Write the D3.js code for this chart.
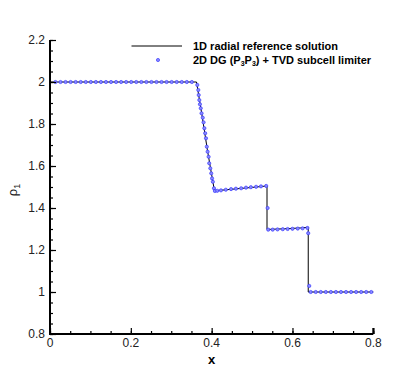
<!DOCTYPE html>
<html>
<head>
<meta charset="utf-8">
<script src="https://cdn.jsdelivr.net/npm/d3@7"></script>
<style>
  body { margin: 0; background: #fff; }
  text { font-family: "Liberation Sans", Arial, sans-serif; }
</style>
</head>
<body>
<div id="chart"></div>
<script>
// reference solution (1D radial), piecewise
var refX = [0, 0.3625, 0.375, 0.39, 0.407, 0.42, 0.46, 0.50, 0.537, 0.537, 0.54, 0.58, 0.62, 0.639, 0.639, 0.8];
var refY = [2.0, 2.0, 1.855, 1.670, 1.481, 1.484, 1.491, 1.498, 1.505, 1.298, 1.298, 1.301, 1.305, 1.308, 1.0, 1.0];

// 2D DG (P3P3) + TVD subcell limiter, displayed symbols
var dgX = [0.0135, 0.026, 0.0385, 0.051, 0.0635, 0.076, 0.0885, 0.101, 0.1135, 0.126,
  0.1385, 0.151, 0.1635, 0.176, 0.1885, 0.201, 0.2135, 0.226, 0.2385, 0.251,
  0.2635, 0.276, 0.2885, 0.301, 0.3135, 0.326, 0.3385, 0.351,
  0.3645, 0.367, 0.368, 0.3695, 0.371, 0.373, 0.375, 0.378, 0.380, 0.382,
  0.384, 0.386, 0.388, 0.390, 0.3925, 0.394, 0.3967, 0.399, 0.401, 0.403, 0.4057, 0.408,
  0.414, 0.423, 0.435, 0.448, 0.460, 0.473, 0.485, 0.497, 0.510, 0.522, 0.535,
  0.5385,
  0.540, 0.551, 0.563, 0.576, 0.588, 0.600, 0.613, 0.625, 0.637,
  0.639, 0.6415,
  0.645, 0.6575, 0.670, 0.6825, 0.695, 0.7075, 0.720, 0.7325, 0.745, 0.7575, 0.770, 0.7825, 0.795];
var dgY = [2.0, 2.0, 2.0, 2.0, 2.0, 2.0, 2.0, 2.0, 2.0, 2.0,
  2.0, 2.0, 2.0, 2.0, 2.0, 2.0, 2.0, 2.0, 2.0, 2.0,
  2.0, 2.0, 2.0, 2.0, 2.0, 2.0, 2.0, 2.0,
  1.986, 1.962, 1.938, 1.914, 1.894, 1.875, 1.851, 1.830, 1.808, 1.780,
  1.756, 1.732, 1.692, 1.668, 1.644, 1.613, 1.589, 1.565, 1.541, 1.525, 1.494, 1.481,
  1.482, 1.484, 1.487, 1.490, 1.492, 1.494, 1.497, 1.499, 1.501, 1.503, 1.505,
  1.40,
  1.297, 1.297, 1.298, 1.299, 1.300, 1.301, 1.302, 1.303, 1.305,
  1.280, 1.029,
  1.0, 1.0, 1.0, 1.0, 1.0, 1.0, 1.0, 1.0, 1.0, 1.0, 1.0, 1.0, 1.0];

var xTicks = [0, 0.2, 0.4, 0.6, 0.8];
var yTicks = [0.8, 1, 1.2, 1.4, 1.6, 1.8, 2, 2.2];

var width = 419, height = 371;

// set the ranges
var x = d3.scaleLinear().domain([0, 0.8]).range([50, 373.3]);
var y = d3.scaleLinear().domain([0.8, 2.2]).range([334, 40]);

var svg = d3.select("#chart").append("svg")
    .attr("width", width)
    .attr("height", height);

// reference line
var refData = refX.map(function (d, i) { return { x: d, y: refY[i] }; });
var line = d3.line()
    .x(function (d) { return x(d.x); })
    .y(function (d) { return y(d.y); });

svg.append("path")
    .datum(refData)
    .attr("fill", "none")
    .attr("stroke", "#000")
    .attr("stroke-width", 1)
    .attr("d", line);

// DG symbols
var dgData = dgX.map(function (d, i) { return { x: d, y: dgY[i] }; });
svg.selectAll("circle.dg")
    .data(dgData)
    .enter().append("circle")
    .attr("class", "dg")
    .attr("cx", function (d) { return x(d.x); })
    .attr("cy", function (d) { return y(d.y); })
    .attr("r", 1.6)
    .attr("fill", "#8a8aff")
    .attr("stroke", "#3a3aff")
    .attr("stroke-width", 0.7);

// minor tick values
var xMinor = d3.range(0, 0.8001, 0.05);
var yMinor = d3.range(0.8, 2.2001, 0.05);

// X axis (ticks pointing inward)
var xAxis = svg.append("g")
    .attr("transform", "translate(0," + y(0.8) + ")");
xAxis.call(d3.axisTop(x).tickValues(xMinor).tickSize(3).tickFormat(""))
    .select(".domain").remove();
xAxis.append("g")
    .call(d3.axisTop(x).tickValues(xTicks).tickSize(6).tickFormat(""))
    .select(".domain").remove();
xAxis.selectAll("line").attr("stroke", "#000").attr("stroke-width", 1.2);
xAxis.selectAll(".xlab")
    .data(xTicks)
    .enter().append("text")
    .attr("class", "xlab")
    .attr("x", function (d) { return x(d); })
    .attr("y", 13)
    .attr("text-anchor", "middle")
    .style("font-size", "12px")
    .style("fill", "#222")
    .text(function (d) { return d3.format("")(d); });

// Y axis (ticks pointing inward)
var yAxis = svg.append("g")
    .attr("transform", "translate(" + x(0) + ",0)");
yAxis.call(d3.axisRight(y).tickValues(yMinor).tickSize(3).tickFormat(""))
    .select(".domain").remove();
yAxis.append("g")
    .call(d3.axisRight(y).tickValues(yTicks).tickSize(6).tickFormat(""))
    .select(".domain").remove();
yAxis.selectAll("line").attr("stroke", "#000").attr("stroke-width", 1.2);
yAxis.selectAll(".ylab")
    .data(yTicks)
    .enter().append("text")
    .attr("class", "ylab")
    .attr("x", -5)
    .attr("y", function (d) { return y(d); })
    .attr("dy", "0.35em")
    .attr("text-anchor", "end")
    .style("font-size", "12px")
    .style("fill", "#222")
    .text(function (d) { return d3.format("")(d); });

// axis lines
svg.append("path")
    .attr("d", "M" + x(0) + "," + y(2.2) + "V" + y(0.8) + "H" + x(0.8))
    .attr("fill", "none")
    .attr("stroke", "#000")
    .attr("stroke-width", 2);
svg.append("line")
    .attr("x1", x(0.8)).attr("x2", x(0.8))
    .attr("y1", y(0.8)).attr("y2", y(0.8) - 6)
    .attr("stroke", "#000").attr("stroke-width", 2);

// axis titles
svg.append("text")
    .attr("x", (x(0) + x(0.8)) / 2)
    .attr("y", 364)
    .attr("text-anchor", "middle")
    .style("font-size", "13px")
    .style("font-weight", "bold")
    .text("x");

var yTitle = svg.append("text")
    .attr("transform", "translate(17," + 190 + ") rotate(-90)")
    .attr("text-anchor", "middle")
    .style("font-size", "13px")
    .style("fill", "#222");
yTitle.append("tspan").text("ρ");
yTitle.append("tspan").attr("dy", 3).style("font-size", "9px").text("1");

// legend
svg.append("line")
    .attr("x1", 131.5).attr("x2", 182)
    .attr("y1", 46).attr("y2", 46)
    .attr("stroke", "#000").attr("stroke-width", 1);
svg.append("text")
    .attr("x", 193)
    .attr("y", 50)
    .style("font-size", "11px")
    .style("font-weight", "bold")
    .text("1D radial reference solution");

svg.append("circle")
    .attr("cx", 158).attr("cy", 60).attr("r", 1.6)
    .attr("fill", "#8a8aff").attr("stroke", "#3a3aff").attr("stroke-width", 0.7);
var leg2 = svg.append("text")
    .attr("x", 193)
    .attr("y", 64)
    .style("font-size", "11px")
    .style("font-weight", "bold");
leg2.append("tspan").text("2D DG (P");
leg2.append("tspan").attr("dy", 2).style("font-size", "7px").text("3");
leg2.append("tspan").attr("dy", -2).text("P");
leg2.append("tspan").attr("dy", 2).style("font-size", "7px").text("3");
leg2.append("tspan").attr("dy", -2).text(") + TVD subcell limiter");
</script>
</body>
</html>
